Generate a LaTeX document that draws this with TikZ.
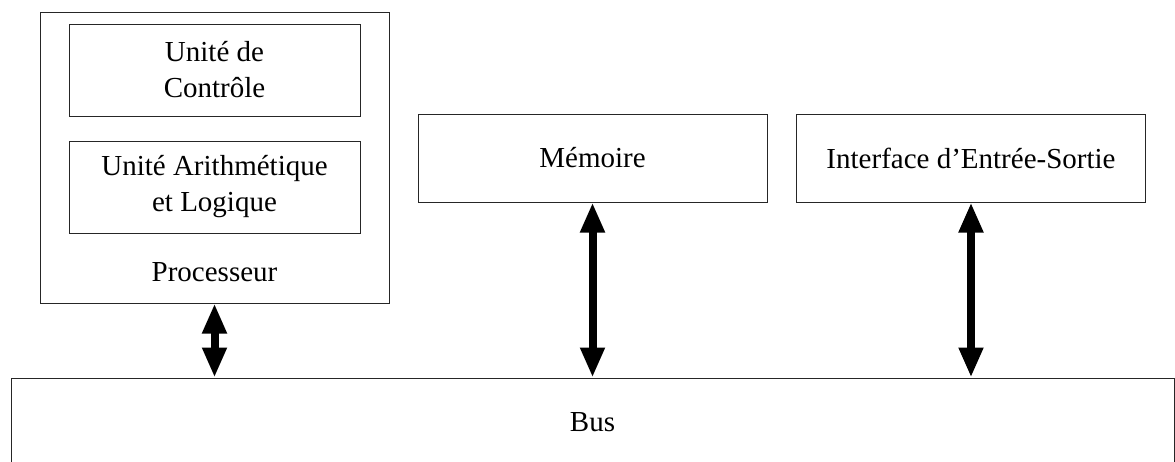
\documentclass[tikz,border=0pt]{standalone}
\usepackage{fontspec}
\setmainfont{Liberation Serif}
\usetikzlibrary{arrows.meta}
\begin{document}
\begin{tikzpicture}[x=1pt,y=-1pt,
  box/.style={draw=black!85,line width=1pt,rectangle,inner sep=0pt,align=center,
    font=\fontsize{29}{36}\selectfont},
  txt/.style={inner sep=0pt,align=center,font=\fontsize{29}{36}\selectfont},
  bigarrow/.style={line width=8pt,{Triangle[width=23pt,length=30pt]}-{Triangle[width=23pt,length=30pt]}}]
\useasboundingbox (0,0) rectangle (1175,461);
\node[box,minimum width=349pt,minimum height=291pt] (proc) at (214.5,157.5) {};
\node[box,minimum width=291pt,minimum height=92pt] (uc) at (214.5,70) {Unité de\\Contrôle};
\node[box,minimum width=291pt,minimum height=92pt] (ual) at (214.5,187) {Unité Arithmétique\\et Logique};
\node[txt] (proclbl) at (214.5,272) {Processeur};
\node[box,minimum width=349pt,minimum height=88pt] (mem) at (592.5,158) {Mémoire};
\node[box,minimum width=349pt,minimum height=88pt] (io) at (971,158) {Interface d’Entrée-Sortie};
\node[box,minimum width=1163pt,minimum height=88pt] (bus) at (592.5,422) {Bus};
\draw[bigarrow] (proc.south) -- (proc.south |- bus.north);
\draw[bigarrow] (mem.south) -- (mem.south |- bus.north);
\draw[bigarrow] (io.south) -- (io.south |- bus.north);
\end{tikzpicture}
\end{document}
